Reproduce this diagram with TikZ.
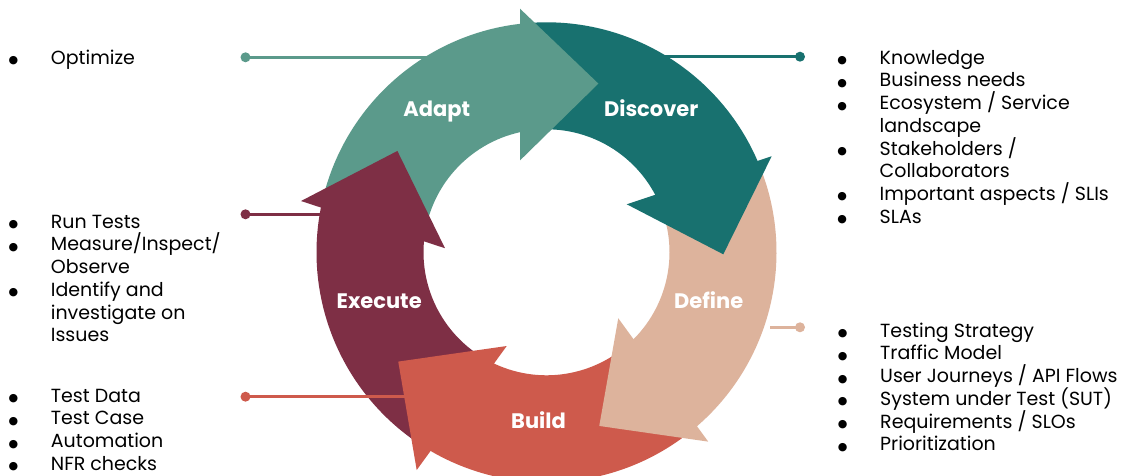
\documentclass[tikz,border=0pt]{standalone}
\usepackage{fontspec}
\setmainfont{Poppins}
\newfontfamily\symfont{DejaVu Sans}
\usetikzlibrary{calc}

\definecolor{adaptc}{HTML}{5B9A8B}
\definecolor{discoverc}{HTML}{18716F}
\definecolor{definec}{HTML}{DDB39C}
\definecolor{buildc}{HTML}{CE5A4C}
\definecolor{executec}{HTML}{7E2F45}

% one body of the ring, between two angles
\newcommand{\ringseg}[3]{%
  \fill[#1] ($(c)+(#2:230pt)$) arc[start angle=#2, end angle=#3, radius=230pt]
    -- ($(c)+(#3:123pt)$) arc[start angle=#3, end angle=#2, radius=123pt] -- cycle;}
% arrow head: outer wing, tip, inner wing (polar, around the centre)
\newcommand{\arrowhd}[4]{%
  \fill[#1] ($(c)+(#2)$) -- ($(c)+(#3)$) -- ($(c)+(#4)$) -- cycle;}
% bullet hanging left of the item text
\newcommand{\bl}{\leavevmode\llap{\makebox[37.5pt][l]{\makebox[0pt]{\raisebox{0.6pt}{\symfont\fontsize{11}{11}\selectfont ●}}}}}
% a list whose lines keep an even pitch
\newcommand{\itemblock}[2]{\parbox[t]{#1}{\raggedright\lineskiplimit=-100pt\lineskip=0pt #2}}

\tikzset{
  stagelabel/.style={text=white, font=\fontsize{21}{24}\selectfont\bfseries, inner sep=0pt, anchor=base},
  itemlist/.style={inner sep=0pt, anchor=base west, font=\fontsize{19}{22.7}\selectfont},
  link/.style={line width=2.6pt},
  linkdot/.style={circle, fill, inner sep=0pt, minimum size=10pt},
}

\begin{document}
\begin{tikzpicture}[x=1pt, y=1pt]
\useasboundingbox (0,0) rectangle (1122,476);
\clip (0,0) rectangle (1122,476);
\fill[white] (0,0) rectangle (1122,476);

\coordinate (c) at (546.5,223.7);

% ring bodies
\ringseg{adaptc}{167.7}{95.7}
\ringseg{discoverc}{95.7}{22.6}
\ringseg{definec}{22.6}{-50}
\ringseg{buildc}{-50}{-121.3}
\ringseg{executec}{-121.3}{-192.3}

% arrow heads
\arrowhd{adaptc}{96.2:245pt}{72.9:176.5pt}{106:95.7pt}
\arrowhd{discoverc}{23.1:244.8pt}{-0.65:176.8pt}{30.9:93.5pt}
\arrowhd{definec}{-49.5:249pt}{-73.1:181.5pt}{-42.6:97.5pt}
\arrowhd{buildc}{-120.8:253.5pt}{-143.6:184.2pt}{-113:101.8pt}
\arrowhd{executec}{168.2:250.8pt}{145.8:180.3pt}{177.7:101.6pt}

% stage names
\node[stagelabel] (adapt) at (436.7,359.3) {Adapt};
\node[stagelabel] (discover) at (651.2,359.3) {Discover};
\node[stagelabel] (define) at (708.7,167.7) {Define};
\node[stagelabel] (execute) at (379.2,167.7) {Execute};
\node[stagelabel] (build) at (538.5,47.7) {Build};

% connectors
\node[linkdot, adaptc] (dadapt) at (245.5,418.7) {};
\coordinate (eadapt) at (430,418.7);
\draw[link, adaptc] (dadapt.center) -- (eadapt);

\node[linkdot, discoverc] (ddiscover) at (800,419.3) {};
\coordinate (ediscover) at (665,419.3);
\draw[link, discoverc] (ddiscover.center) -- (ediscover);

\node[linkdot, executec] (dexecute) at (245.5,261.7) {};
\coordinate (eexecute) at (325,261.7);
\draw[link, executec] (dexecute.center) -- (eexecute);

\node[linkdot, buildc] (dbuild) at (245.5,79.3) {};
\coordinate (ebuild) at (406,79.3);
\draw[link, buildc] (dbuild.center) -- (ebuild);

\node[linkdot, definec] (ddefine) at (800,148.7) {};
\coordinate (edefine) at (770,148.7);
\draw[link, definec] (ddefine.center) -- (edefine);

% item lists
\node[itemlist] (adaptlist) at (50.7,411.7) {\itemblock{180pt}{%
\bl Optimize}};

\node[itemlist] (discoverlist) at (879.5,411.7) {\itemblock{240pt}{%
\bl Knowledge\\
\bl Business needs\\
\bl Ecosystem / Service\\
landscape\\
\bl Stakeholders /\\
Collaborators\\
\bl Important aspects / SLIs\\
\bl SLAs}};

\node[itemlist] (executelist) at (50.7,247.7) {\itemblock{180pt}{%
\bl Run Tests\\
\bl Measure/Inspect/\\
Observe\\
\bl Identify and\\
investigate on\\
Issues}};

\node[itemlist] (buildlist) at (50.7,73.7) {\itemblock{180pt}{%
\bl Test Data\\
\bl Test Case\\
\bl Automation\\
\bl NFR checks}};

\node[itemlist] (definelist) at (880,138.7) {\itemblock{240pt}{%
\bl Testing Strategy\\
\bl Traffic Model\\
\bl User Journeys / API Flows\\
\bl System under Test (SUT)\\
\bl Requirements / SLOs\\
\bl Prioritization}};
\end{tikzpicture}
\end{document}
